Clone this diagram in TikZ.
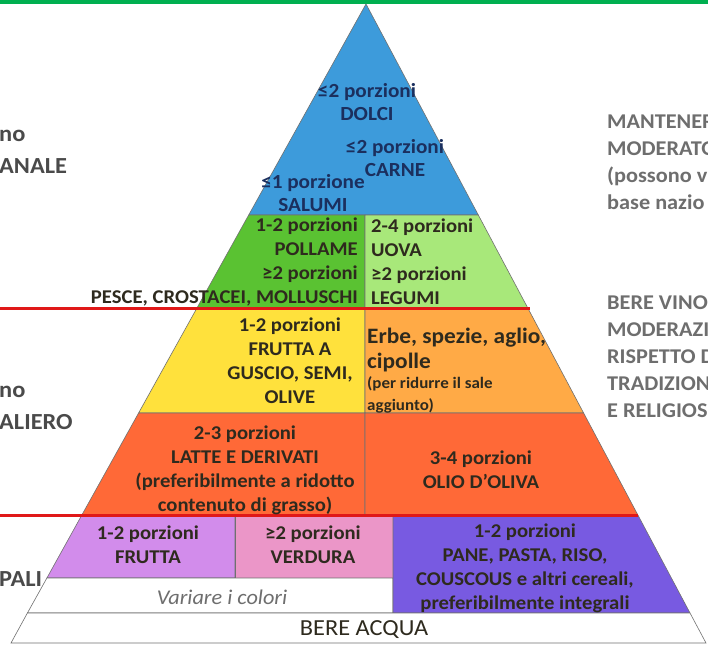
\documentclass[tikz,border=0pt]{standalone}
\usepackage{fontspec}
\setmainfont{Carlito}[FakeStretch=1.06]
\definecolor{topgreen}{HTML}{00AF50}
\definecolor{cblue}{HTML}{3D9BDB}
\definecolor{cgreenA}{HTML}{5AC232}
\definecolor{cgreenB}{HTML}{A8E87A}
\definecolor{cyellow}{HTML}{FFE13C}
\definecolor{corangeA}{HTML}{FFAA46}
\definecolor{corangeB}{HTML}{FF6937}
\definecolor{cpinkA}{HTML}{D28CEB}
\definecolor{cpinkB}{HTML}{EB96C8}
\definecolor{cpurple}{HTML}{785AE1}
\definecolor{credline}{HTML}{E01818}
\definecolor{navytext}{HTML}{1B2F5E}
\definecolor{darktext}{HTML}{2E2A1E}
\definecolor{sidegrey}{HTML}{6E6E6E}
\definecolor{leftgrey}{HTML}{4A4A4A}
\definecolor{edgegrey}{HTML}{707070}
\begin{document}
\begin{tikzpicture}[x=1pt,y=-1pt,
  band/.style={draw=edgegrey,line width=0.6pt},
  redline/.style={draw=credline,line width=3pt},
  bandtext/.style={inner sep=0pt,text=darktext,font=\fontsize{19.5}{24}\selectfont\bfseries},
  bluetext/.style={bandtext,text=navytext,font=\fontsize{20}{23}\selectfont\bfseries},
  sidetext/.style={inner sep=0pt,anchor=west,text=sidegrey,align=left,font=\fontsize{21}{27}\selectfont\bfseries},
  lefttext/.style={inner sep=0pt,anchor=west,text=leftgrey,font=\fontsize{23}{24}\selectfont\bfseries}]
\useasboundingbox (0,0) rectangle (708,645);
\clip (0,0) rectangle (708,645);
\fill[white] (0,0) rectangle (708,645);
\fill[topgreen] (0,0) rectangle (708,4);
% corners
\coordinate (apex) at (366,4);
\coordinate (l1) at (248.7,215); \coordinate (r1) at (478.3,215); \coordinate (m1) at (365,215);
\coordinate (l2) at (196.4,309); \coordinate (r2) at (528.3,309); \coordinate (m2) at (365,309);
\coordinate (l3) at (138.6,413); \coordinate (r3) at (583.6,413); \coordinate (m3) at (365,413);
\coordinate (l4) at (81.3,516);  \coordinate (r4) at (638.4,516); \coordinate (m4) at (365,516);
\coordinate (p4) at (235,516); \coordinate (q4) at (393,516);
\coordinate (l5) at (46.9,578); \coordinate (p5) at (235,578); \coordinate (q5) at (393,578);
\coordinate (l6) at (27.4,613); \coordinate (q6) at (393,613); \coordinate (r6) at (690,613);
\coordinate (l7) at (11,643); \coordinate (r7) at (706,643);
% bands
\filldraw[band,fill=cblue] (apex) -- (r1) -- (l1) -- cycle;
\filldraw[band,fill=cgreenA] (l1) -- (m1) -- (m2) -- (l2) -- cycle;
\filldraw[band,fill=cgreenB] (m1) -- (r1) -- (r2) -- (m2) -- cycle;
\filldraw[band,fill=cyellow] (l2) -- (m2) -- (m3) -- (l3) -- cycle;
\filldraw[band,fill=corangeA] (m2) -- (r2) -- (r3) -- (m3) -- cycle;
\filldraw[band,fill=corangeB] (l3) -- (m3) -- (m4) -- (l4) -- cycle;
\filldraw[band,fill=corangeB] (m3) -- (r3) -- (r4) -- (m4) -- cycle;
\filldraw[band,fill=cpinkA] (l4) -- (p4) -- (p5) -- (l5) -- cycle;
\filldraw[band,fill=cpinkB] (p4) -- (q4) -- (q5) -- (p5) -- cycle;
\filldraw[band,fill=white] (l5) -- (q5) -- (q6) -- (l6) -- cycle;
\filldraw[band,fill=cpurple] (q4) -- (r4) -- (r6) -- (q6) -- cycle;
\filldraw[band,fill=white] (l6) -- (r6) -- (r7) -- (l7) -- cycle;
% red lines
\coordinate (ra0) at (0,308.5); \coordinate (ra1) at (530,308.5);
\coordinate (rb0) at (0,515.5); \coordinate (rb1) at (638,515.5);
\draw[redline] (ra0) -- (ra1);
\draw[redline] (rb0) -- (rb1);
% blue texts
\node[bluetext,align=center] (dolci) at (367,102) {≤2 porzioni\\DOLCI};
\node[bluetext,align=center] (carne) at (395,158) {≤2 porzioni\\CARNE};
\node[bluetext,align=center] (salumi) at (313,193) {≤1 porzione\\SALUMI};
% green
\node[bandtext,align=right,anchor=east] (pollame) at (358,262) {1-2 porzioni\\POLLAME\\≥2 porzioni\\PESCE, CROSTACEI, MOLLUSCHI};
\node[bandtext,align=left,anchor=west] (uova) at (371,262) {2-4 porzioni\\UOVA\\≥2 porzioni\\LEGUMI};
% yellow / orange
\node[bandtext,align=center] (guscio) at (290,361) {1-2 porzioni\\FRUTTA A\\GUSCIO, SEMI,\\OLIVE};
\node[bandtext,align=left,anchor=west,font=\fontsize{22}{25}\selectfont\bfseries] (erbe) at (367,350) {Erbe, spezie, aglio,\\cipolle};
\node[bandtext,align=left,anchor=west,font=\fontsize{16}{22}\selectfont\bfseries] (sale) at (367,395) {(per ridurre il sale\\aggiunto)};
% orange-red
\node[bandtext,align=center] (latte) at (245,470) {2-3 porzioni\\LATTE E DERIVATI\\(preferibilmente a ridotto\\contenuto di grasso)};
\node[bandtext,align=center] (olio) at (481,470) {3-4 porzioni\\OLIO D’OLIVA};
% bottom
\node[bandtext,align=center] (frutta) at (148,545) {1-2 porzioni\\FRUTTA};
\node[bandtext,align=center] (verdura) at (313,545) {≥2 porzioni\\VERDURA};
\node[inner sep=0pt,text=sidegrey,font=\fontsize{21}{22}\selectfont\itshape] (variare) at (222,597) {Variare i colori};
\node[bandtext,align=center] (pane) at (525,568) {1-2 porzioni\\PANE, PASTA, RISO,\\COUSCOUS e altri cereali,\\preferibilmente integrali};
\node[inner sep=0pt,text=darktext,font=\fontsize{23}{24}\selectfont] (acqua) at (364,630) {BERE ACQUA};
% left side
\node[lefttext] (la) at (-1,136) {no};
\node[lefttext] (lb) at (-1,166) {ANALE};
\node[lefttext] (lc) at (-1,392) {no};
\node[lefttext] (ld) at (-1,422) {ALIERO};
\node[lefttext] (le) at (-1,579) {PALI};
% right side
\node[sidetext] (ra) at (607,162) {MANTENER\\MODERATO\\(possono v\\base nazio};
\node[sidetext] (rb) at (607,357) {BERE VINO\\MODERAZI\\RISPETTO D\\TRADIZION\\E RELIGIOS};
\end{tikzpicture}
\end{document}
